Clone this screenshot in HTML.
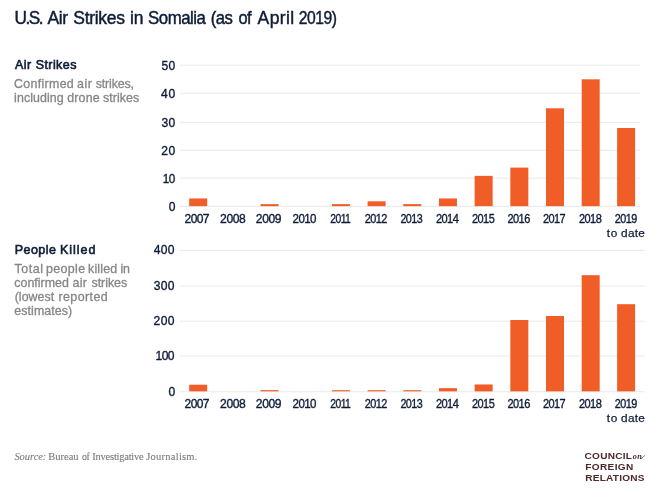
<!DOCTYPE html>
<html lang="en"><head><meta charset="utf-8"><title>U.S. Air Strikes in Somalia</title>
<style>
html,body{margin:0;padding:0;background:#fff;}
body{width:660px;height:498px;overflow:hidden;}
svg{display:block}
text{font-family:"Liberation Sans",Arial,sans-serif;white-space:pre;}
.t{font-size:17.5px;fill:#0e1c38;stroke:#0e1c38;stroke-width:0.45px;}
.h{font-size:12.5px;fill:#0e1c38;stroke:#0e1c38;stroke-width:0.6px;}
.d{font-size:12.4px;fill:#868686;stroke:#868686;stroke-width:0.3px;}
.x{font-size:12.1px;fill:#0e1c38;stroke:#0e1c38;stroke-width:0.35px;}
.td{font-size:11.8px;fill:#0e1c38;stroke:#0e1c38;stroke-width:0.25px;}
.s,.si{font-family:"Liberation Serif","Times New Roman",serif;font-size:10.5px;fill:#7c7c7c;stroke:#7c7c7c;stroke-width:0.12px;}
.si{font-style:italic;}
.l{font-size:9.8px;font-weight:bold;fill:#4d292b;}
.lo{font-family:"Liberation Serif","Times New Roman",serif;font-style:italic;font-weight:bold;font-size:8.3px;fill:#4d292b;}
</style></head><body>
<svg width="660" height="498" viewBox="0 0 660 498">
<rect width="660" height="498" fill="#fff"/>
<rect x="180.0" y="64.65" width="460.1" height="1.1" fill="#eaebef"/>
<rect x="180.0" y="92.75" width="460.1" height="1.1" fill="#eaebef"/>
<rect x="180.0" y="121.75" width="460.1" height="1.1" fill="#eaebef"/>
<rect x="180.0" y="149.75" width="460.1" height="1.1" fill="#eaebef"/>
<rect x="180.0" y="177.65" width="460.1" height="1.1" fill="#eaebef"/>
<rect x="180.0" y="205.85" width="460.1" height="1.1" fill="#eaebef"/>
<rect x="189.20" y="198.47" width="18.0" height="7.68" fill="#f15d27"/>
<rect x="260.56" y="204.12" width="18.0" height="2.03" fill="#f15d27"/>
<rect x="331.92" y="204.12" width="18.0" height="2.03" fill="#f15d27"/>
<rect x="367.60" y="201.30" width="18.0" height="4.85" fill="#f15d27"/>
<rect x="403.28" y="204.12" width="18.0" height="2.03" fill="#f15d27"/>
<rect x="438.96" y="198.47" width="18.0" height="7.68" fill="#f15d27"/>
<rect x="474.64" y="175.86" width="18.0" height="30.29" fill="#f15d27"/>
<rect x="510.32" y="167.60" width="18.0" height="38.55" fill="#f15d27"/>
<rect x="546.00" y="108.30" width="18.0" height="97.85" fill="#f15d27"/>
<rect x="581.68" y="79.30" width="18.0" height="126.85" fill="#f15d27"/>
<rect x="617.10" y="128.00" width="18.0" height="78.15" fill="#f15d27"/>
<rect x="180.0" y="249.85" width="464.6" height="1.1" fill="#eaebef"/>
<rect x="180.0" y="285.45" width="464.6" height="1.1" fill="#eaebef"/>
<rect x="180.0" y="320.65" width="464.6" height="1.1" fill="#eaebef"/>
<rect x="180.0" y="355.45" width="464.6" height="1.1" fill="#eaebef"/>
<rect x="180.0" y="391.15" width="464.6" height="1.1" fill="#eaebef"/>
<rect x="189.20" y="384.71" width="18.0" height="6.64" fill="#f15d27"/>
<rect x="260.56" y="390.12" width="18.0" height="1.23" fill="#f15d27"/>
<rect x="331.92" y="390.19" width="18.0" height="1.16" fill="#f15d27"/>
<rect x="367.60" y="390.19" width="18.0" height="1.16" fill="#f15d27"/>
<rect x="403.28" y="390.19" width="18.0" height="1.16" fill="#f15d27"/>
<rect x="438.96" y="388.14" width="18.0" height="3.21" fill="#f15d27"/>
<rect x="474.64" y="384.46" width="18.0" height="6.89" fill="#f15d27"/>
<rect x="510.32" y="320.00" width="18.0" height="71.35" fill="#f15d27"/>
<rect x="546.00" y="316.00" width="18.0" height="75.35" fill="#f15d27"/>
<rect x="581.68" y="275.20" width="18.0" height="116.15" fill="#f15d27"/>
<rect x="617.10" y="304.20" width="18.0" height="87.15" fill="#f15d27"/>
<text class="t" transform="translate(14.52 23.5) scale(0.9851 1)" letter-spacing="-1.5">U.S.</text>
<text class="t" x="47.6" y="23.5" letter-spacing="-0.5">Air</text>
<text class="t" x="73.3" y="23.5" letter-spacing="-0.3">Strikes</text>
<text class="t" x="130.1" y="23.5" letter-spacing="-0.2">in</text>
<text class="t" transform="translate(148.12 23.5) scale(0.9623 1)" letter-spacing="-0.525">Somalia</text>
<text class="t" transform="translate(210.64 23.5) scale(0.9526 1)" letter-spacing="-0.525">(as</text>
<text class="t" transform="translate(238.43 23.5) scale(0.9369 1)" letter-spacing="-0.525">of</text>
<text class="t" x="257.6" y="23.5" letter-spacing="0.375">April</text>
<text class="t" transform="translate(298.76 23.5) scale(0.8959 1)" letter-spacing="-0.525">2019)</text>
<text class="h" y="69"><tspan x="15.1" letter-spacing="0.35">Air</tspan> <tspan x="35.7" letter-spacing="0.417">Strikes</tspan></text>
<text class="d" y="88.1"><tspan x="14.1" letter-spacing="0.312">Confirmed</tspan> <tspan x="77.1" letter-spacing="0.5">air</tspan> <tspan x="95.7" letter-spacing="-0.129">strikes,</tspan></text>
<text class="d" y="101.9"><tspan x="14.1" letter-spacing="0.087">including</tspan> <tspan x="67.3" letter-spacing="0.15">drone</tspan> <tspan x="103.1" letter-spacing="0.05">strikes</tspan></text>
<text class="h" y="254.3"><tspan x="14.7" letter-spacing="0.46">People</tspan> <tspan x="59.9" letter-spacing="1.0">Killed</tspan></text>
<text class="d" y="273.3"><tspan x="14.5" letter-spacing="0.575">Total</tspan> <tspan x="45.9" letter-spacing="0.4">people</tspan> <tspan x="88.1" letter-spacing="0.16">killed</tspan> <tspan x="120.6" letter-spacing="-0.4">in</tspan></text>
<text class="d" y="287.2"><tspan x="14.3" letter-spacing="0.025">confirmed</tspan> <tspan x="72.6" letter-spacing="0.3">air</tspan> <tspan x="91.5" letter-spacing="-0.033">strikes</tspan></text>
<text class="d" y="301.2"><tspan x="14.7" letter-spacing="0.033">(lowest</tspan> <tspan x="58.4" letter-spacing="0.443">reported</tspan></text>
<text class="d" y="314.9"><tspan x="14.3" letter-spacing="0.089">estimates)</tspan></text>
<text class="x" transform="translate(184.6 222.7) scale(0.9945 1)" letter-spacing="-0.605">2007</text>
<text class="x" y="222.7"><tspan x="220.1" letter-spacing="-0.4">2008</tspan></text>
<text class="x" y="222.7"><tspan x="255.85" letter-spacing="-0.4">2009</tspan></text>
<text class="x" transform="translate(292.62 222.7) scale(0.9535 1)" letter-spacing="-0.605">2010</text>
<text class="x" transform="translate(330.16 222.7) scale(0.8552 1)" letter-spacing="-0.605">2011</text>
<text class="x" transform="translate(364.64 222.7) scale(0.9022 1)" letter-spacing="-0.605">2012</text>
<text class="x" transform="translate(400.39 222.7) scale(0.8919 1)" letter-spacing="-0.605">2013</text>
<text class="x" transform="translate(435.88 222.7) scale(0.9152 1)" letter-spacing="-0.605">2014</text>
<text class="x" transform="translate(472.04 222.7) scale(0.9063 1)" letter-spacing="-0.605">2015</text>
<text class="x" transform="translate(507.44 222.7) scale(0.9104 1)" letter-spacing="-0.605">2016</text>
<text class="x" transform="translate(542.94 222.7) scale(0.9063 1)" letter-spacing="-0.605">2017</text>
<text class="x" transform="translate(578.94 222.7) scale(0.9104 1)" letter-spacing="-0.605">2018</text>
<text class="x" transform="translate(614.74 222.7) scale(0.894 1)" letter-spacing="-0.605">2019</text>
<text class="td" y="236.8"><tspan x="606.8" letter-spacing="0.7">to</tspan></text>
<text class="td" y="236.8"><tspan x="621.1" letter-spacing="0.233">date</tspan></text>
<text class="x" transform="translate(184.6 407.8) scale(0.9945 1)" letter-spacing="-0.605">2007</text>
<text class="x" y="407.8"><tspan x="220.1" letter-spacing="-0.4">2008</tspan></text>
<text class="x" y="407.8"><tspan x="255.85" letter-spacing="-0.4">2009</tspan></text>
<text class="x" transform="translate(292.62 407.8) scale(0.9535 1)" letter-spacing="-0.605">2010</text>
<text class="x" transform="translate(330.16 407.8) scale(0.8552 1)" letter-spacing="-0.605">2011</text>
<text class="x" transform="translate(364.64 407.8) scale(0.9022 1)" letter-spacing="-0.605">2012</text>
<text class="x" transform="translate(400.39 407.8) scale(0.8919 1)" letter-spacing="-0.605">2013</text>
<text class="x" transform="translate(435.88 407.8) scale(0.9152 1)" letter-spacing="-0.605">2014</text>
<text class="x" transform="translate(472.04 407.8) scale(0.9063 1)" letter-spacing="-0.605">2015</text>
<text class="x" transform="translate(507.44 407.8) scale(0.9104 1)" letter-spacing="-0.605">2016</text>
<text class="x" transform="translate(542.94 407.8) scale(0.9063 1)" letter-spacing="-0.605">2017</text>
<text class="x" transform="translate(578.94 407.8) scale(0.9104 1)" letter-spacing="-0.605">2018</text>
<text class="x" transform="translate(614.74 407.8) scale(0.894 1)" letter-spacing="-0.605">2019</text>
<text class="td" y="421.9"><tspan x="606.8" letter-spacing="0.7">to</tspan></text>
<text class="td" y="421.9"><tspan x="621.1" letter-spacing="0.233">date</tspan></text>
<text class="x" y="69.5"><tspan x="161.4" letter-spacing="0.4">50</tspan></text>
<text class="x" y="97.6"><tspan x="161.1" letter-spacing="0.7">40</tspan></text>
<text class="x" y="126.6"><tspan x="161.4" letter-spacing="0.4">30</tspan></text>
<text class="x" y="154.6"><tspan x="161.2" letter-spacing="0.6">20</tspan></text>
<text class="x" transform="translate(162.83 182.5) scale(0.9665 1)" letter-spacing="-0.605">10</text>
<text class="x" y="210.7"><tspan x="168.8" letter-spacing="0">0</tspan></text>
<text class="x" y="254.2"><tspan x="153.7" letter-spacing="0.35">400</tspan></text>
<text class="x" y="289.8"><tspan x="153.8" letter-spacing="0.3">300</tspan></text>
<text class="x" y="325.0"><tspan x="153.6" letter-spacing="0.4">200</tspan></text>
<text class="x" y="359.8"><tspan x="155.5" letter-spacing="-0.55">100</tspan></text>
<text class="x" y="395.5"><tspan x="168.4" letter-spacing="0">0</tspan></text>
<text class="si" y="460.0"><tspan x="14.4" letter-spacing="-0.05">Source:</tspan></text>
<text class="s" x="48.2" y="460.0" letter-spacing="0.02">Bureau</text>
<text class="s" transform="translate(82.02 460.0) scale(0.9397 1)" letter-spacing="-0.525">of</text>
<text class="s" x="92.3" y="460.0" letter-spacing="-0.233">Investigative</text>
<text class="s" x="146.3" y="460.0" letter-spacing="0.24">Journalism.</text>
<text class="l" transform="translate(584.59 459.0) scale(1.03 1)" letter-spacing="0.239">COUNCIL</text>
<text class="lo" y="458.9"><tspan x="632.7" letter-spacing="0.5">on</tspan></text>
<text class="l" transform="translate(585.28 469.6) scale(1.03 1)" letter-spacing="0.339">FOREIGN</text>
<text class="l" transform="translate(585.28 480.5) scale(1.03 1)" letter-spacing="0.2">RELATIONS</text>
<path class="swash" d="M641.2 458.4 C642.6 458.6 643.2 456.6 644.6 455.6" fill="none" stroke="#4d292b" stroke-width="0.7" stroke-linecap="round"/>
</svg>
</body></html>
